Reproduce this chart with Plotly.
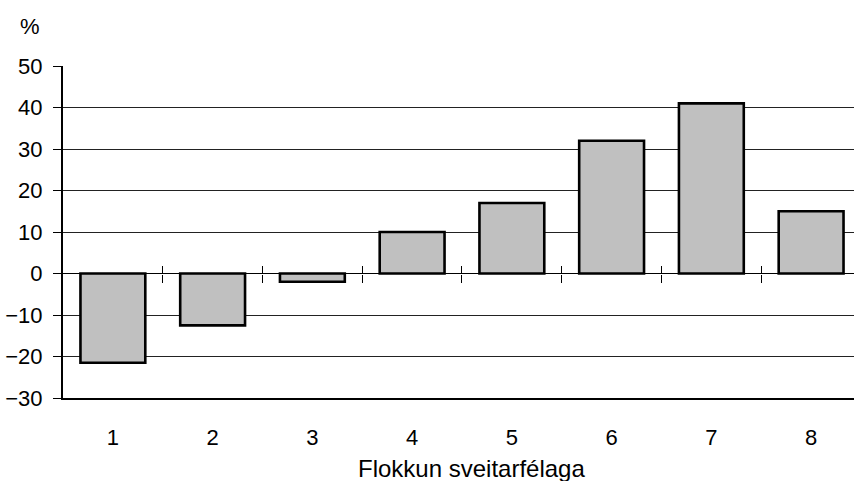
import plotly.graph_objects as go

# Percentage change by municipality group
categories = [1, 2, 3, 4, 5, 6, 7, 8]
tick_labels = ["1", "2", "3", "4", "5", "6", "7", "8"]
values = [-21.5, -12.5, -2, 10, 17, 32, 41, 15]
boundaries = [1.5, 2.5, 3.5, 4.5, 5.5, 6.5, 7.5]

FONT = "Liberation Sans, Arial, sans-serif"
x_range = [0.5, 8.43]

fig = go.Figure()
fig.add_trace(go.Bar(
    x=categories, y=values, width=0.65,
    marker=dict(color="#c0c0c0", line=dict(color="black", width=2.6)),
    showlegend=False, hoverinfo="x+y",
))
# invisible carriers for the tick axes that cross the zero line
for ax in ("x2", "x3"):
    fig.add_trace(go.Scatter(x=categories, y=values, xaxis=ax, yaxis="y",
                             mode="none", showlegend=False, hoverinfo="skip"))

fig.update_layout(
    width=854, height=481,
    margin=dict(l=63, r=0, t=66, b=83),
    paper_bgcolor="white", plot_bgcolor="white",
    font=dict(family=FONT, size=22, color="black"),
    xaxis=dict(
        range=x_range, tickvals=categories, ticktext=tick_labels,
        showline=True, linecolor="black", linewidth=2,
        ticks="", showgrid=False, zeroline=False,
        ticklabelstandoff=19,
        tickfont=dict(size=22),
    ),
    xaxis2=dict(
        overlaying="x", anchor="free", position=0.375, range=x_range,
        tickvals=boundaries, showticklabels=False, ticks="outside",
        ticklen=8, tickwidth=1, tickcolor="black",
        showline=False, showgrid=False, zeroline=False,
    ),
    xaxis3=dict(
        overlaying="x", anchor="free", position=0.375, range=x_range,
        tickvals=boundaries, showticklabels=False, ticks="inside",
        ticklen=8, tickwidth=1, tickcolor="black",
        showline=False, showgrid=False, zeroline=False,
    ),
    yaxis=dict(
        range=[-30, 50], dtick=10, tick0=0,
        showline=True, linecolor="black", linewidth=2,
        ticks="outside", ticklen=8, tickwidth=1, tickcolor="black",
        showgrid=True, gridcolor="#222", gridwidth=1,
        zeroline=True, zerolinecolor="black", zerolinewidth=1,
        ticklabelstandoff=6,
        tickfont=dict(size=22),
    ),
    annotations=[
        dict(text="%", x=-0.042, y=1.118, xref="paper", yref="paper",
             xanchor="center", yanchor="middle",
             showarrow=False, font=dict(size=22)),
        dict(text="Flokkun sveitarfélaga", x=0.516, y=-0.213,
             xref="paper", yref="paper", xanchor="center", yanchor="middle",
             showarrow=False, font=dict(size=24)),
    ],
)

fig.write_html("out.html")
